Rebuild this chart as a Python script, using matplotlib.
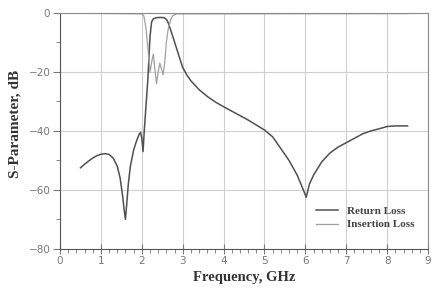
import numpy as np
import matplotlib
matplotlib.use("Agg")
import matplotlib.pyplot as plt
from matplotlib.ticker import MultipleLocator

# Return Loss trace (dark line)
rl_freq = [0.50, 0.60, 0.70, 0.80, 0.90, 1.00, 1.10, 1.20, 1.30, 1.40,
           1.47, 1.53, 1.57, 1.60, 1.63, 1.67, 1.72, 1.80, 1.88, 1.94,
           1.97, 2.00, 2.03, 2.06, 2.10, 2.15, 2.20, 2.24, 2.28, 2.35,
           2.45, 2.55, 2.61, 2.65, 2.70, 2.77, 2.85, 2.93, 3.00, 3.10,
           3.20, 3.40, 3.60, 3.80, 4.00, 4.20, 4.40, 4.60, 4.80, 5.00,
           5.20, 5.40, 5.60, 5.80, 5.95, 6.02, 6.10, 6.20, 6.40, 6.60,
           6.80, 7.00, 7.20, 7.40, 7.60, 7.80, 8.00, 8.20, 8.50]
rl_db = [-52.5, -51.3, -50.2, -49.2, -48.4, -47.9, -47.7, -48.0, -49.2, -52.0,
         -56.0, -62.0, -67.0, -70.0, -65.0, -58.0, -52.0, -46.5, -43.0, -41.0,
         -40.5, -42.5, -47.0, -40.0, -32.0, -22.0, -8.0, -3.0, -2.0, -1.6,
         -1.5, -1.6, -2.3, -3.5, -5.5, -8.5, -12.0, -15.5, -18.5, -21.0,
         -23.0, -26.0, -28.3, -30.2, -31.8, -33.3, -34.8, -36.3, -38.0, -39.7,
         -42.0, -46.0, -50.0, -55.0, -60.0, -62.5, -58.0, -55.0, -50.5, -47.5,
         -45.5, -44.0, -42.5, -41.0, -40.0, -39.3, -38.5, -38.3, -38.3]

# Insertion Loss trace (light line)
il_freq = [0.50, 2.00, 2.05, 2.10, 2.15, 2.20, 2.25, 2.28, 2.32, 2.36,
           2.40, 2.44, 2.48, 2.52, 2.56, 2.60, 2.65, 2.70, 2.75, 2.85, 8.50]
il_db = [-0.1, -0.3, -1.0, -5.0, -12.0, -20.0, -16.0, -14.0, -19.0, -24.0,
         -20.0, -17.0, -19.0, -21.0, -17.0, -10.0, -5.0, -2.5, -1.0, -0.3, -0.2]

xticks = [0, 1, 2, 3, 4, 5, 6, 7, 8, 9]
yticks = [0, -20, -40, -60, -80]

serif = {"family": "Liberation Serif", "weight": "bold"}

fig = plt.figure(figsize=(4.35, 3.02), dpi=100)
ax = fig.add_axes([0.138, 0.176, 0.846, 0.781])

ax.plot(rl_freq, rl_db, color="#505050", lw=1.1, label="Return Loss")
ax.plot(il_freq, il_db, color="#a0a0a0", lw=0.9, label="Insertion Loss")

ax.set_xlim(0, 9)
ax.set_ylim(-80, 0)
ax.set_xticks(xticks)
ax.set_yticks(yticks)
ax.xaxis.set_minor_locator(MultipleLocator(0.2))
ax.yaxis.set_minor_locator(MultipleLocator(10))
ax.grid(True, which="major", color="#cfcfcf", lw=0.8)

ax.tick_params(axis="x", which="major", direction="inout", length=7, width=0.8,
               colors="#777777", labelsize=7.5, pad=2)
ax.tick_params(axis="x", which="minor", direction="out", length=3, width=0.6,
               colors="#777777")
ax.tick_params(axis="y", which="major", direction="out", length=5, width=0.8,
               colors="#777777", labelsize=7.5, pad=2)
ax.tick_params(axis="y", which="minor", direction="out", length=3, width=0.6,
               colors="#777777")

for side in ["left", "bottom"]:
    ax.spines[side].set_color("#555555")
for side in ["top", "right"]:
    ax.spines[side].set_color("#8a8a8a")

ax.set_xlabel("Frequency, GHz", fontdict=serif, fontsize=10.5, color="#333333", labelpad=3)
ax.set_ylabel("S-Parameter, dB", fontdict=serif, fontsize=11, color="#333333", labelpad=4)
ax.yaxis.set_label_coords(-0.105, 0.53)

leg = ax.legend(loc="lower right", bbox_to_anchor=(0.99, 0.04), frameon=False,
                prop={"family": "Liberation Serif", "weight": "bold", "size": 8},
                handlelength=2.0, handletextpad=0.8, labelspacing=0.35)
for t in leg.get_texts():
    t.set_color("#444444")

fig.savefig("out.png", dpi=100)
